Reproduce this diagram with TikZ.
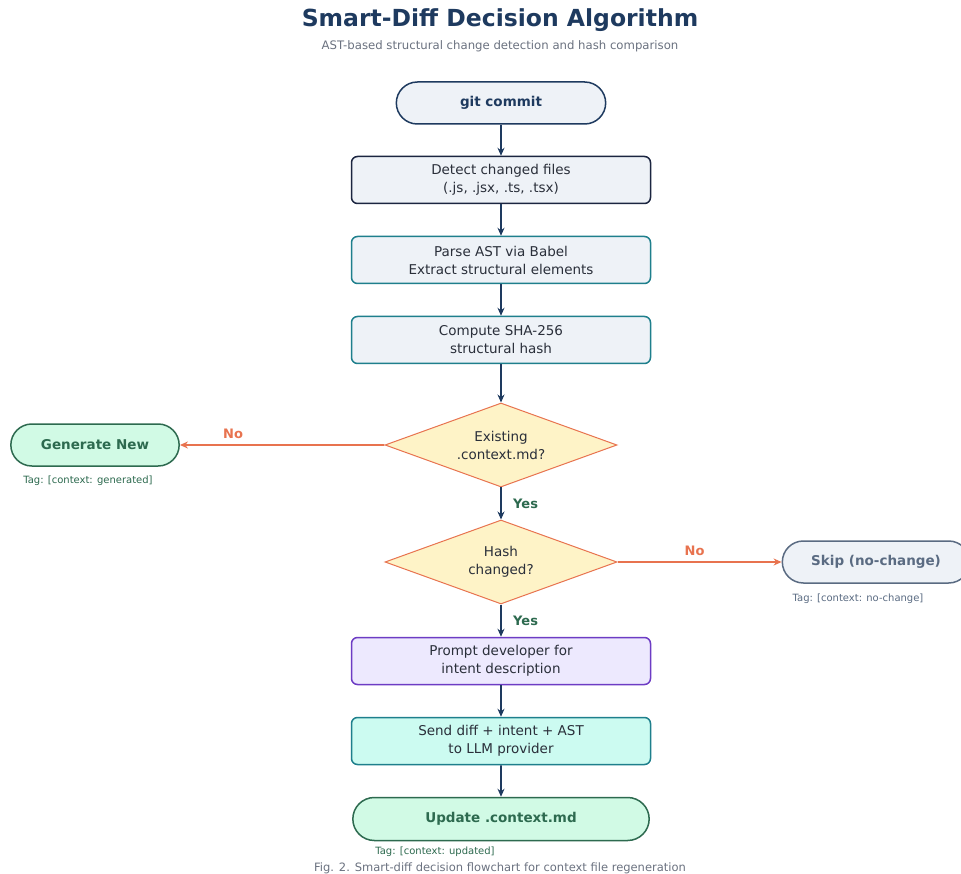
\documentclass[tikz,border=0pt]{standalone}
\usepackage{fontspec}
\setmainfont{DejaVu Sans}
\usetikzlibrary{shapes.geometric,shapes.misc,arrows.meta}
\definecolor{navy}{HTML}{1E3A5F}
\definecolor{darknavy}{HTML}{1B2540}
\definecolor{boxfill}{HTML}{EEF2F7}
\definecolor{teal}{HTML}{1E7F8C}
\definecolor{dfill}{HTML}{FEF3C7}
\definecolor{dline}{HTML}{E8734F}
\definecolor{gfill}{HTML}{D1FAE5}
\definecolor{gline}{HTML}{2D6A4F}
\definecolor{slate}{HTML}{5A6B82}
\definecolor{purp}{HTML}{6D3CC4}
\definecolor{pfill}{HTML}{EDE9FE}
\definecolor{cfill}{HTML}{CCFBF1}
\definecolor{txt}{HTML}{2A2F3A}
\definecolor{gray}{HTML}{6B7280}
\begin{document}
\begin{tikzpicture}[x=1pt,y=-1pt,
  every node/.style={font=\fontsize{13.5}{18}\selectfont, text=txt, align=center},
  procbox/.style={draw, rectangle, rounded corners=6pt, line width=1.5pt, minimum width=299pt, minimum height=47pt, fill=boxfill},
  pill/.style={draw, rounded rectangle, line width=1.5pt, font=\fontsize{13.5}{16}\selectfont\bfseries},
  decide/.style={draw=dline, fill=dfill, diamond, aspect=2.75, line width=1pt, minimum width=232pt, minimum height=84pt, inner sep=0pt},
  flow/.style={draw=navy, line width=1.8pt, -{Stealth[length=8pt,width=7pt]}},
  noflow/.style={draw=dline, line width=1.8pt, -{Stealth[length=8pt,width=7pt]}},
  lab/.style={font=\fontsize{13}{15}\selectfont\bfseries},
  tag/.style={font=\fontsize{10}{12}\selectfont}
]
\useasboundingbox (0,0) rectangle (961,874);
\fill[white] (0,0) rectangle (961,874);
\begin{scope}
\clip (0,0) rectangle (961,874);
\node[font=\fontsize{23.5}{28}\selectfont\bfseries, text=navy] (title) at (500,20) {Smart-Diff Decision Algorithm};
\node[font=\fontsize{11.7}{14}\selectfont, text=gray] (sub) at (500,46) {AST-based structural change detection and hash comparison};

\node[pill, draw=navy, fill=boxfill, text=navy, minimum width=216pt, minimum height=42pt] (git) at (501,103) {git commit};
\node[procbox, draw=darknavy] (detect) at (501,180) {Detect changed files\\(.js, .jsx, .ts, .tsx)};
\node[procbox, draw=teal] (parse) at (501,260) {Parse AST via Babel\\Extract structural elements};
\node[procbox, draw=teal] (hash) at (501,340) {Compute SHA-256\\structural hash};
\node[decide] (d1) at (501,445) {Existing\\.context.md?};
\node[decide] (d2) at (501,562) {Hash\\changed?};
\node[pill, draw=gline, fill=gfill, text=gline, minimum width=175pt, minimum height=42pt] (gen) at (95,445) {Generate New};
\node[tag, text=gline] (taggen) at (88,481) {Tag: [context: generated]};
\node[pill, draw=slate, fill=boxfill, text=slate, minimum width=194pt, minimum height=42pt] (skip) at (876,562) {Skip (no-change)};
\node[tag, text=slate] (tagskip) at (858,599) {Tag: [context: no-change]};
\node[procbox, draw=purp, fill=pfill] (prompt) at (501,661) {Prompt developer for\\intent description};
\node[procbox, draw=teal, fill=cfill] (send) at (501,741) {Send diff + intent + AST\\to LLM provider};
\node[pill, draw=gline, fill=gfill, text=gline, minimum width=303pt, minimum height=43pt] (upd) at (501,819) {Update .context.md};
\node[tag, text=gline] (tagupd) at (435,852) {Tag: [context: updated]};
\node[font=\fontsize{11.5}{13}\selectfont, text=gray] (cap) at (500,868) {Fig. 2. Smart-diff decision flowchart for context file regeneration};

\draw[flow] (git) -- (detect);
\draw[flow] (detect) -- (parse);
\draw[flow] (parse) -- (hash);
\draw[flow] (hash) -- (d1);
\draw[flow] (d1) -- node[lab, text=gline, right=8pt, pos=0.5] {Yes} (d2);
\draw[flow] (d2) -- node[lab, text=gline, right=8pt, pos=0.5] {Yes} (prompt);
\draw[flow] (prompt) -- (send);
\draw[flow] (send) -- (upd);
\draw[noflow] (d1) -- node[lab, text=dline, above=2pt, pos=0.74] {No} (gen);
\draw[noflow] (d2) -- node[lab, text=dline, above=2pt, pos=0.47] {No} (skip);
\end{scope}
\end{tikzpicture}
\end{document}
